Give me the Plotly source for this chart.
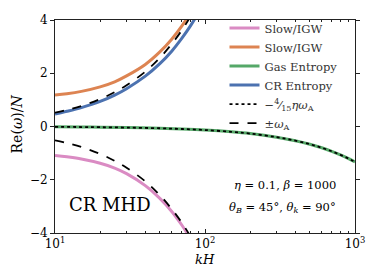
import plotly.graph_objects as go

# kH sample points
kH = [10, 12, 15, 20, 25, 30, 40, 50, 60, 70, 80, 90]
slow_neg = [-1.09, -1.14, -1.22, -1.38, -1.56, -1.77, -2.22, -2.70, -3.19, -3.70, -4.21, -4.72]
slow_pos = [1.18, 1.23, 1.32, 1.49, 1.68, 1.90, 2.33, 2.80, 3.28, 3.77, 4.26, 4.75]
cr_entropy = [0.47, 0.57, 0.71, 0.94, 1.18, 1.42, 1.89, 2.36, 2.83, 3.31, 3.78, 4.25]
omega_a = [0.52, 0.62, 0.77, 1.03, 1.29, 1.55, 2.06, 2.58, 3.10, 3.61, 4.13, 4.64]
omega_a_neg = [-0.52, -0.62, -0.77, -1.03, -1.29, -1.55, -2.06, -2.58, -3.10, -3.61, -4.13, -4.64]

kH_g = [10, 15, 20, 30, 50, 70, 100, 150, 200, 300, 400, 500, 600, 700, 800, 900, 1000]
gas_entropy = [-0.013, -0.02, -0.027, -0.04, -0.066, -0.093, -0.133, -0.2, -0.266,
               -0.4, -0.532, -0.665, -0.798, -0.931, -1.064, -1.197, -1.33]
eta_line = gas_entropy

x_tickvals = [10, 100, 1000]
x_ticktext = ["10<sup>1</sup>", "10<sup>2</sup>", "10<sup>3</sup>"]
x_minor = [20, 30, 40, 50, 60, 70, 80, 90, 200, 300, 400, 500, 600, 700, 800, 900]
y_tickvals = [-4, -2, 0, 2, 4]
y_ticktext = ["\u22124", "\u22122", "0", "2", "4"]

PINK = "#DA8BC3"
ORANGE = "#DD8452"
GREEN = "#55A868"
BLUE = "#4C72B0"
FONT = "DejaVu Serif"

fig = go.Figure()
fig.add_trace(go.Scatter(x=kH, y=slow_neg, mode="lines", name="Slow/IGW",
                         line=dict(color=PINK, width=3, shape="spline")))
fig.add_trace(go.Scatter(x=kH, y=slow_pos, mode="lines", name="Slow/IGW",
                         line=dict(color=ORANGE, width=3, shape="spline")))
fig.add_trace(go.Scatter(x=kH_g, y=gas_entropy, mode="lines", name="Gas Entropy",
                         line=dict(color=GREEN, width=3, shape="spline")))
fig.add_trace(go.Scatter(x=kH, y=cr_entropy, mode="lines", name="CR Entropy",
                         line=dict(color=BLUE, width=3, shape="spline")))
fig.add_trace(go.Scatter(x=kH_g, y=eta_line, mode="lines",
                         name="\u2212<sup>4</sup>\u2044<sub>15</sub><i>\u03b7\u03c9</i><sub>A</sub>",
                         line=dict(color="black", width=1.8, dash="dot", shape="spline")))
fig.add_trace(go.Scatter(x=kH, y=omega_a, mode="lines",
                         name="\u00b1<i>\u03c9</i><sub>A</sub>",
                         line=dict(color="black", width=1.8, dash="dash", shape="spline")))
fig.add_trace(go.Scatter(x=kH, y=omega_a_neg, mode="lines", showlegend=False,
                         line=dict(color="black", width=1.8, dash="dash", shape="spline")))

# the page body adds an 8px margin, so the figure is sized to fit the window
fig.update_layout(
    width=366, height=272,
    margin=dict(l=47, r=19, t=6, b=47),
    paper_bgcolor="white", plot_bgcolor="white",
    font=dict(family=FONT, size=12, color="black"),
    showlegend=True,
    legend=dict(x=0.565, y=1.03, xanchor="left", yanchor="top",
                bgcolor="rgba(0,0,0,0)", font=dict(family=FONT, size=11.5, color="#333"),
                tracegroupgap=0, itemwidth=30),
    xaxis=dict(type="log", range=[1, 3], tickvals=x_tickvals, ticktext=x_ticktext,
               ticks="inside", ticklen=4, tickcolor="#222", showgrid=False,
               showline=True, linecolor="#222", linewidth=1, mirror="ticks",
               tickfont=dict(family=FONT, size=12), zeroline=False,
               minor=dict(tickvals=x_minor, ticks="inside", ticklen=2, tickcolor="#222",
                          showgrid=False)),
    yaxis=dict(range=[-4, 4], tickvals=y_tickvals, ticktext=y_ticktext,
               ticks="outside", ticklen=4, tickcolor="#222", showgrid=False,
               showline=True, linecolor="#222", linewidth=1, mirror="ticks",
               tickfont=dict(family=FONT, size=12), zeroline=False),
)

fig.add_annotation(text="Re(<i>\u03c9</i>)/<i>N</i>", xref="paper", yref="paper",
                   x=-0.127, y=0.514, xanchor="center", yanchor="middle",
                   textangle=-90, showarrow=False, font=dict(family=FONT, size=14))
fig.add_annotation(text="<i>kH</i>", xref="paper", yref="paper",
                   x=0.5, y=-0.123, xanchor="center", yanchor="middle",
                   showarrow=False, font=dict(family=FONT, size=13))
fig.add_annotation(text="CR MHD", xref="paper", yref="paper",
                   x=0.183, y=0.132, xanchor="center", yanchor="middle",
                   showarrow=False, font=dict(family=FONT, size=18))
fig.add_annotation(text="<i>\u03b7</i> = 0.1, <i>\u03b2</i> = 1000", xref="paper", yref="paper",
                   x=0.943, y=0.224, xanchor="right", yanchor="middle", showarrow=False,
                   font=dict(family=FONT, size=11.5))
fig.add_annotation(text="<i>\u03b8</i><sub><i>B</i></sub> = 45\u00b0, <i>\u03b8</i><sub><i>k</i></sub> = 90\u00b0",
                   xref="paper", yref="paper",
                   x=0.943, y=0.119, xanchor="right", yanchor="middle", showarrow=False,
                   font=dict(family=FONT, size=11.5))

fig.write_html("out.html")
